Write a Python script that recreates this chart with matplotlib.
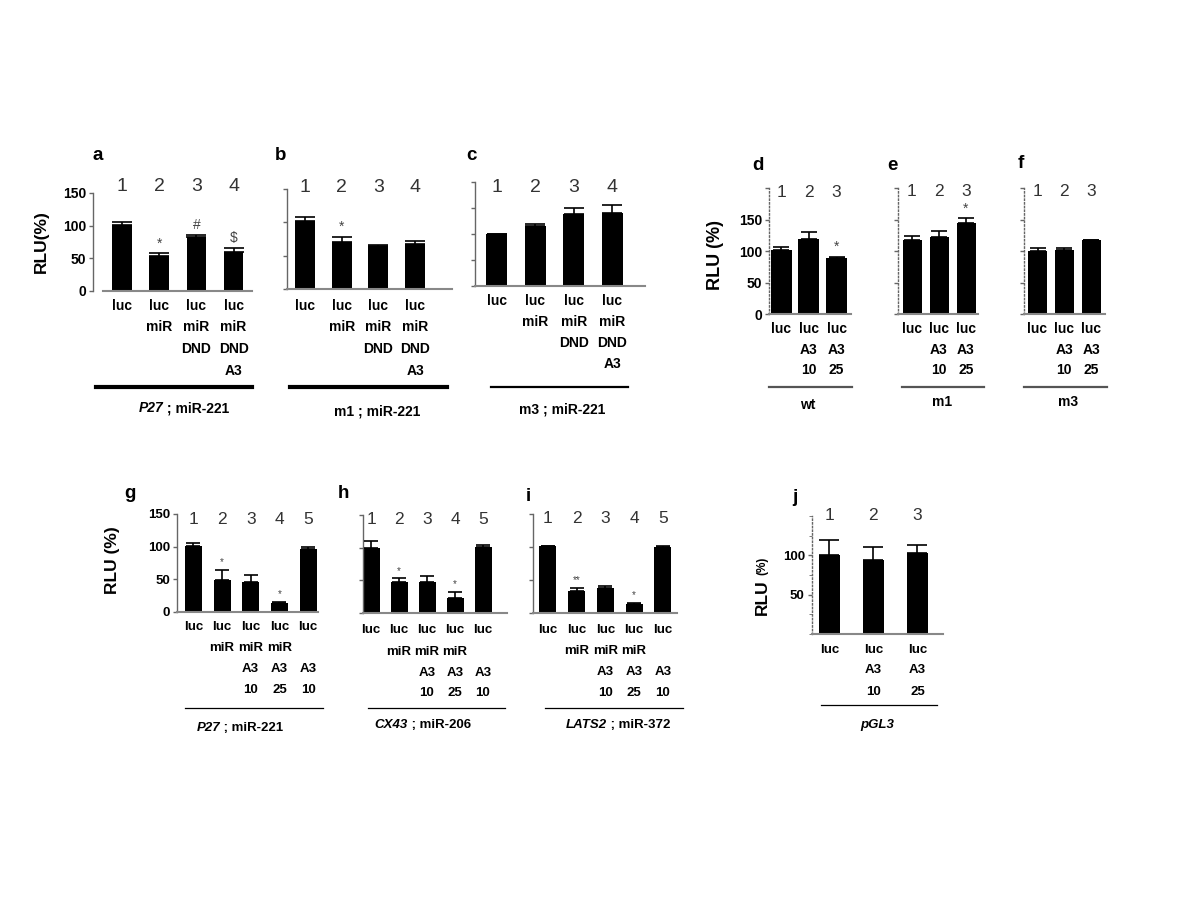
import numpy as np
import matplotlib
matplotlib.use("Agg")
import matplotlib.pyplot as plt
from matplotlib.lines import Line2D
from matplotlib.offsetbox import TextArea, HPacker, AnnotationBbox

plt.rcParams["font.family"] = ["Liberation Sans", "DejaVu Sans"]

W, H = 1200, 900

# ---- data (RLU %, upper error bars) ----
a_vals = [101, 54, 83, 59]
a_err = [5, 4, 3, 7.5]
a_marks = ["", "*", "#", "$"]

b_vals = [102, 71, 65, 68]
b_err = [6, 7, 1, 4]
b_marks = ["", "*", "", ""]

c_vals = [100, 116, 138, 141]
c_err = [1, 3, 13, 15]
c_marks = ["", "", "", ""]

dnd_labels = [["luc"], ["luc", "miR"], ["luc", "miR", "DND"], ["luc", "miR", "DND", "A3"]]

d_vals = [102, 119.5, 89]
d_err = [4, 11, 2]
d_marks = ["", "", "*"]

e_vals = [118, 122, 145]
e_err = [5.5, 9.5, 7.5]
e_marks = ["", "", "*"]

f_vals = [100, 102, 118]
f_err = [5, 3.5, 0.5]
f_marks = ["", "", ""]

a3_labels = [["luc"], ["luc", "A3", "10"], ["luc", "A3", "25"]]

g_vals = [101, 49, 45.6, 13, 96]
g_err = [5, 15.6, 10.8, 2.5, 3.6]
g_marks = ["", "*", "", "*", ""]

h_vals = [100, 47, 47, 23, 101]
h_err = [10, 5.6, 9.7, 8.4, 3.6]
h_marks = ["", "*", "", "*", ""]

i_vals = [101, 33.6, 37.8, 13.5, 100]
i_err = [1, 4.2, 2.2, 1, 1.5]
i_marks = ["", "**", "", "*", ""]

mir_labels = [["luc"], ["luc", "miR"], ["luc", "miR", "A3", "10"],
              ["luc", "miR", "A3", "25"], ["luc", "", "A3", "10"]]

j_vals = [100, 93.6, 103.4]
j_err = [19, 16.4, 9.6]
j_marks = ["", "", ""]


fig = plt.figure(figsize=(12, 9), dpi=100)


def fx(x):
    return x / W


def fy(y):
    return 1 - y / H


def panel(vals, err, marks, labels, spine_x, right_x, y0, ytop, ymax, c1, step, width,
          num_y, rows, num_fs=14, lab_fs=10, star_fs=10, cap=7, spine_ls="-",
          base_start=None, tick_fs=10):
    n = len(vals)
    x = np.arange(1, n + 1)
    hpx = y0 - ytop
    ax = fig.add_axes([fx(spine_x), fy(y0), (right_x - spine_x) / W, hpx / H])
    ax.set_xlim(1 + (spine_x - c1) / step, 1 + (right_x - c1) / step)
    ax.set_ylim(0, ymax)
    ax.bar(x, vals, width=width / step, color="black", zorder=2)
    ax.errorbar(x, vals, yerr=[np.zeros(n), err], fmt="none", ecolor="black",
                elinewidth=1.2, capsize=cap, capthick=1.2, zorder=3)
    for xi, v, e, m in zip(x, vals, err, marks):
        if m:
            ax.annotate(m, (xi, v + e), xytext=(0, 2), textcoords="offset points",
                        ha="center", va="bottom", fontsize=star_fs, color="#444")
    trans = ax.get_xaxis_transform()
    for xi in x:
        ax.text(xi, 1 + (ytop - num_y) / hpx, str(xi), transform=trans, ha="center",
                va="center", fontsize=num_fs, color="#333", clip_on=False)
    for xi, col in zip(x, labels):
        for r, t in enumerate(col):
            if t:
                ax.text(xi, -(rows[r] - y0) / hpx, t, transform=trans, ha="center",
                        va="center", fontsize=lab_fs, fontweight="bold", clip_on=False)
    for s in ("top", "right"):
        ax.spines[s].set_visible(False)
    ax.spines["left"].set_color("#666")
    ax.spines["left"].set_linestyle(spine_ls)
    ax.spines["left"].set_linewidth(1.0)
    ax.spines["bottom"].set_color("#888")
    ax.spines["bottom"].set_linewidth(1.5)
    if base_start is not None:
        ax.spines["bottom"].set_bounds(1 + (base_start - c1) / step, ax.get_xlim()[1])
    ax.set_xticks([])
    ax.tick_params(axis="y", direction="out", length=3, width=1, color="#666",
                   labelsize=tick_fs, pad=2)
    ax.patch.set_visible(False)
    return ax


def underline(x0, x1, y, lw, color="black"):
    fig.add_artist(Line2D([fx(x0), fx(x1)], [fy(y), fy(y)], transform=fig.transFigure,
                          lw=lw, color=color))


def caption(x, y, italic, rest, fs=10):
    parts = []
    if italic:
        parts.append(TextArea(italic, textprops=dict(fontsize=fs, fontweight="bold",
                                                     style="italic")))
    parts.append(TextArea(rest, textprops=dict(fontsize=fs, fontweight="bold")))
    box = HPacker(children=parts, align="baseline", pad=0, sep=0)
    fig.add_artist(AnnotationBbox(box, (fx(x), fy(y)), xycoords="figure fraction",
                                  frameon=False, box_alignment=(0.5, 0.5)))


def letter(x, y, t, fs=13.5):
    fig.text(fx(x), fy(y), t, fontsize=fs, fontweight="bold", ha="center", va="center")


def ylabel(x, y, t, fs=12.5):
    fig.text(fx(x), fy(y), t, fontsize=fs, fontweight="bold", rotation=90,
             ha="center", va="center")


def bold_ticks(ax, ticks, labels):
    ax.set_yticks(ticks, labels, fontweight="bold")


# ---- top row: a, b, c ----
rows_abc = [305.7, 327.3, 349, 370.7]
ax = panel(a_vals, a_err, a_marks, dnd_labels, 93, 252, 291, 193, 150, 122, 37.2, 19.5,
           187, rows_abc, base_start=103)
bold_ticks(ax, [0, 50, 100, 150], ["0", "50", "100", "150"])
letter(98, 155, "a")
ylabel(41, 242, "RLU(%)")
underline(96, 252, 387, 3)
caption(184, 408, "P27", " ; miR-221")

ax = panel(b_vals, b_err, b_marks, dnd_labels, 287, 452, 289, 189, 150, 305, 36.7, 20,
           187, rows_abc)
ax.set_yticks([0, 50, 100, 150], [])
letter(281, 155, "b")
underline(290, 447, 387, 3)
caption(377, 411, "", "m1 ; miR-221")

ax = panel(c_vals, c_err, c_marks, dnd_labels, 475, 645, 286, 182.3, 200, 496.5, 38.6, 21,
           187, [300.7, 321.7, 342.7, 364])
ax.set_yticks([0, 50, 100, 150, 200], [])
letter(471, 155, "c")
underline(491, 628, 387, 1.6)
caption(562, 410, "", "m3 ; miR-221")

# ---- top right: d, e, f ----
rows_def = [329, 350, 370]
ax = panel(d_vals, d_err, d_marks, a3_labels, 769, 851, 314, 188.3, 200, 781, 27.8, 21,
           192.5, rows_def, num_fs=12.5, cap=6, spine_ls=":")
bold_ticks(ax, [0, 50, 100, 150, 200], ["0", "50", "100", "150", ""])
letter(758, 165, "d")
ylabel(715, 255, "RLU (%)", fs=13)
underline(769, 852, 386.7, 1.6, "#555")
caption(808, 405, "", "wt")

ax = panel(e_vals, e_err, e_marks, a3_labels, 897.5, 978.3, 314, 188.3, 200, 912, 27, 19,
           192, rows_def, num_fs=12.5, cap=6, spine_ls=":")
ax.set_yticks([0, 50, 100, 150, 200], [])
letter(892, 165, "e")
underline(902, 984, 386.7, 1.6, "#555")
caption(942, 402, "", "m1")

ax = panel(f_vals, f_err, f_marks, a3_labels, 1024, 1105, 314, 188.3, 200, 1037.5, 26.8, 19,
           192, rows_def, num_fs=12.5, cap=6, spine_ls=":")
ax.set_yticks([0, 50, 100, 150, 200], [])
letter(1021, 164, "f")
underline(1024, 1107, 386.7, 1.6, "#555")
caption(1068, 402, "", "m3")

# ---- bottom row: g, h, i ----
ax = panel(g_vals, g_err, g_marks, mir_labels, 177.3, 318.3, 611.7, 514, 150, 193.3, 28.7, 17,
           520, [626.7, 647.5, 669, 690], num_fs=12.5, lab_fs=9.5, star_fs=7, cap=5,
           tick_fs=9.5)
bold_ticks(ax, [0, 50, 100, 150], ["0", "50", "100", "150"])
letter(130, 493, "g")
ylabel(113, 560, "RLU (%)")
underline(185, 323, 708.3, 0.9)
caption(240, 728, "P27", " ; miR-221", fs=9.5)

ax = panel(h_vals, h_err, h_marks, mir_labels, 362.5, 507, 612.7, 515, 150, 371, 28, 17,
           520, [630, 651.7, 672.7, 693.3], num_fs=12.5, lab_fs=9.5, star_fs=7, cap=5)
ax.set_yticks([0, 50, 100, 150], [])
letter(343, 493, "h")
underline(368, 505, 708.3, 0.9)
caption(423, 725, "CX43", " ; miR-206", fs=9.5)

ax = panel(i_vals, i_err, i_marks, mir_labels, 533.3, 676.7, 612.7, 514, 150, 547.7, 28.8, 17,
           518.3, [630, 651, 672.3, 692.7], num_fs=12.5, lab_fs=9.5, star_fs=7, cap=5)
ax.set_yticks([0, 50, 100, 150], [])
letter(528, 497, "i")
underline(545, 683, 708.3, 0.9)
caption(618, 725, "LATS2", " ; miR-372", fs=9.5)

# ---- j ----
ax = panel(j_vals, j_err, j_marks, a3_labels, 811.7, 943.3, 634, 516, 150, 829.3, 44.1, 20.5,
           515, [650, 670, 691.7], num_fs=12.5, lab_fs=9.5, cap=7, spine_ls=":",
           tick_fs=9.5)
bold_ticks(ax, [50, 100], ["50", "100"])
ax.set_yticks([0, 25, 75, 125, 150], minor=True)
ax.tick_params(axis="y", which="minor", length=2, color="#666")
letter(795, 498, "j")
fig.text(fx(762), fy(597), "RLU", fontsize=12.5, fontweight="bold", rotation=90,
         ha="center", va="center")
fig.text(fx(762), fy(566), "(%)", fontsize=8.5, fontweight="bold", rotation=90,
         ha="center", va="center")
underline(821, 937, 705, 0.9)
caption(877, 725, "pGL3", "", fs=9.5)

fig.savefig("out.png", dpi=100)
